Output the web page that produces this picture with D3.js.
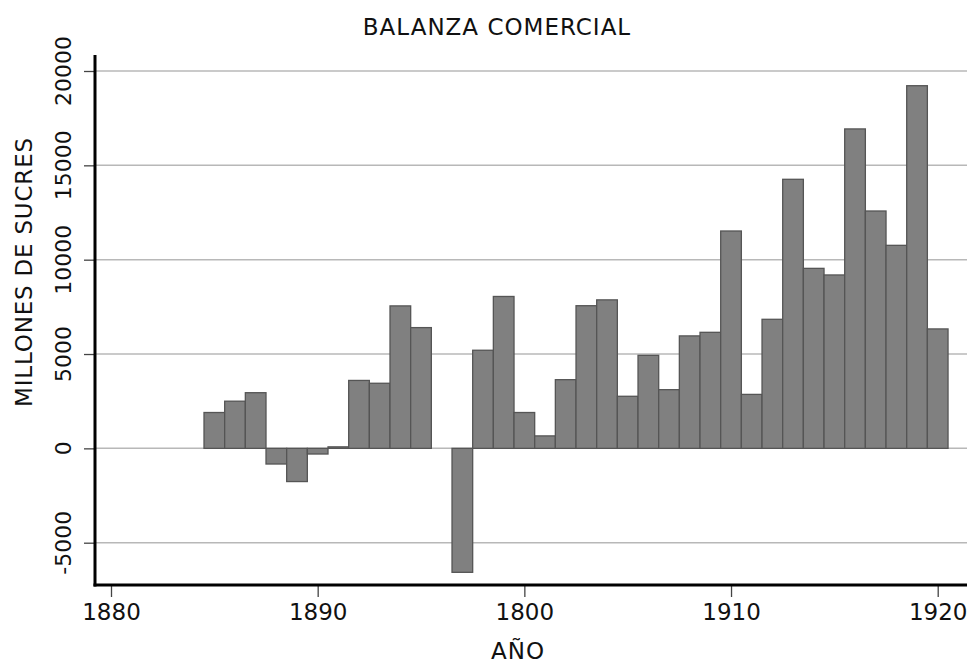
<!DOCTYPE html>
<html>
<head>
<meta charset="utf-8">
<script src="https://cdn.jsdelivr.net/npm/d3@7"></script>
<style>
  html, body { margin: 0; padding: 0; background: #fff; }
  svg { display: block; }
  text { font-family: "Century Gothic", "URW Gothic", "DejaVu Sans", sans-serif; fill: #111; }
</style>
</head>
<body>
<svg id="chart" width="969" height="666"></svg>
<script>
const years = [1885,1886,1887,1888,1889,1890,1891,1892,1893,1894,1895,1896,1897,1898,1899,1900,1901,1902,1903,1904,1905,1906,1907,1908,1909,1910,1911,1912,1913,1914,1915,1916,1917,1918,1919,1920];
const balance = [1900,2500,2950,-830,-1760,-300,80,3600,3450,7550,6400,null,-6570,5200,8050,1900,660,3640,7560,7870,2760,4930,3110,5960,6150,11520,2860,6840,14260,9540,9190,16930,12580,10760,19220,6330];
const xTickValues = [1880,1890,1900,1910,1920];
const xTickLabels = ["1880","1890","1800","1910","1920"];
const yTickValues = [-5000,0,5000,10000,15000,20000];
const title = "BALANZA COMERCIAL";
const xTitle = "AÑO";
const yTitle = "MILLONES DE SUCRES";

const svg = d3.select("#chart");
const x = d3.scaleLinear().domain([1880,1920]).range([111,937.7]);
const y = d3.scaleLinear().domain([-5000,20000]).range([542.7,71]);
const axisLeftX = 95, axisBottomY = 585, plotRight = 967, plotTop = 55;
const bw = x(1881) - x(1880);
const fontStack = "\"Century Gothic\", \"URW Gothic\", \"DejaVu Sans\", sans-serif";

// gridlines
svg.append("g").selectAll("line").data(yTickValues).join("line")
  .attr("x1", axisLeftX).attr("x2", plotRight)
  .attr("y1", d => y(d)).attr("y2", d => y(d))
  .attr("stroke", "#b8b8b8").attr("stroke-width", 1.5);

// bars
const data = years.map((yr,i) => ({yr, v: balance[i]})).filter(d => d.v !== null);
svg.append("g").selectAll("rect").data(data).join("rect")
  .attr("x", d => x(d.yr) - bw/2)
  .attr("width", bw)
  .attr("y", d => y(Math.max(0, d.v)))
  .attr("height", d => Math.abs(y(d.v) - y(0)))
  .attr("fill", "#808080")
  .attr("stroke", "#555")
  .attr("stroke-width", 1.3);

// x axis
const xAxis = d3.axisBottom(x).tickValues(xTickValues)
  .tickFormat((d,i) => xTickLabels[i]).tickSize(12).tickPadding(7);
const gx = svg.append("g").attr("transform", `translate(0,${axisBottomY})`).call(xAxis);
gx.select(".domain").remove();
gx.selectAll(".tick line").attr("stroke", "#444").attr("stroke-width", 1.3);
gx.selectAll(".tick text").attr("font-size", 23).attr("fill", "#111")
  .style("font-family", fontStack);

// y axis ticks
const yAxis = d3.axisLeft(y).tickValues(yTickValues).tickSize(11).tickFormat("");
const gy = svg.append("g").attr("transform", `translate(${axisLeftX},0)`).call(yAxis);
gy.select(".domain").remove();
gy.selectAll(".tick line").attr("stroke", "#444").attr("stroke-width", 1.3);
svg.append("g").selectAll("text").data(yTickValues).join("text")
  .attr("transform", d => `translate(71,${y(d)}) rotate(-90)`)
  .attr("text-anchor", "middle")
  .attr("font-size", 22)
  .text(d => d);

// axis lines
svg.append("line").attr("x1", axisLeftX).attr("x2", axisLeftX)
  .attr("y1", plotTop).attr("y2", axisBottomY + 1.5)
  .attr("stroke", "#000").attr("stroke-width", 3);
svg.append("line").attr("x1", axisLeftX - 1.5).attr("x2", plotRight)
  .attr("y1", axisBottomY).attr("y2", axisBottomY)
  .attr("stroke", "#000").attr("stroke-width", 3);

// titles
svg.append("text").attr("x", 497).attr("y", 35).attr("text-anchor", "middle")
  .attr("font-size", 23).attr("letter-spacing", 1).text(title);
svg.append("text").attr("x", 518).attr("y", 659).attr("text-anchor", "middle")
  .attr("font-size", 23).attr("letter-spacing", 1).text(xTitle);
svg.append("text").attr("transform", "translate(32,272) rotate(-90)")
  .attr("text-anchor", "middle").attr("font-size", 23).attr("letter-spacing", 0.8).text(yTitle);
</script>
</body>
</html>
